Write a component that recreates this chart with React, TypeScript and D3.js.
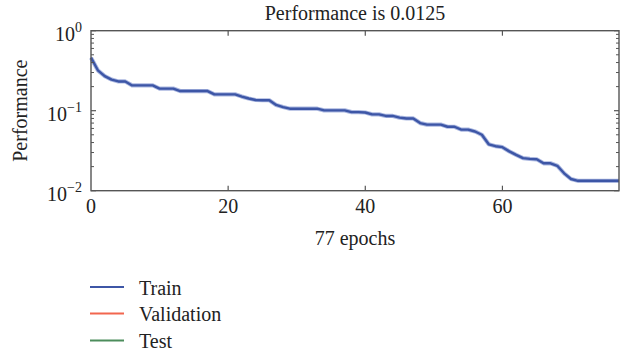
import React from "react";
import * as d3 from "d3";

const title = "Performance is 0.0125";
const xLabel = "77 epochs";
const yLabel = "Performance";
const xTicks = [0, 20, 40, 60];
const yDecades = [-2, -1, 0];
const legendNames = ["Train", "Validation", "Test"];
const legendColors = ["#3d56a6", "#f2664f", "#4d8d5c"];

// training performance per epoch (0..77)
const trainPerf = [
  0.46, 0.32, 0.27, 0.245, 0.232, 0.232, 0.207, 0.207, 0.207, 0.207,
  0.189, 0.189, 0.189, 0.176, 0.176, 0.176, 0.176, 0.176, 0.16, 0.16,
  0.16, 0.16, 0.15, 0.142, 0.136, 0.135, 0.135, 0.118, 0.111, 0.106,
  0.106, 0.106, 0.106, 0.106, 0.101, 0.101, 0.101, 0.101, 0.096, 0.096,
  0.095, 0.09, 0.09, 0.086, 0.086, 0.082, 0.08, 0.08, 0.07, 0.067,
  0.067, 0.067, 0.063, 0.063, 0.058, 0.058, 0.055, 0.05, 0.038, 0.036,
  0.035, 0.031, 0.028, 0.0255, 0.025, 0.0247, 0.022, 0.022, 0.0205, 0.0165,
  0.014, 0.0133, 0.0133, 0.0133, 0.0133, 0.0133, 0.0133, 0.0133,
];

const FONT = "Liberation Serif, DejaVu Serif, serif";
const ts: React.CSSProperties = { fontFamily: FONT };

export default function App() {
  const L = 91, R = 619, T = 30.7, B = 190.7;
  const x = d3.scaleLinear().domain([0, 77]).range([L, R]);
  const y = d3.scaleLog().domain([0.01, 1]).range([B, T]);
  const line = d3
    .line<number>()
    .x((_, i) => x(i))
    .y((d) => y(d));
  const path = line(trainPerf) || "";
  const axisColor = "#555";
  const minor: number[] = [];
  [-2, -1].forEach((e) => {
    for (let k = 2; k <= 9; k++) minor.push(k * Math.pow(10, e));
  });
  const textColor = "#222";
  return (
    <svg
      width={630}
      height={355}
      style={{ position: "absolute", left: 0, top: 0, background: "#fff" }}
    >
      <rect x={0} y={0} width={630} height={355} fill="#fff" />
      <text x={(L + R) / 2} y={20} textAnchor="middle" fontSize={20} fill={textColor} style={ts}>
        {title}
      </text>
      {/* data line */}
      <path d={path} fill="none" stroke="#aab7e0" strokeWidth={4.2} strokeLinejoin="round" />
      <path d={path} fill="none" stroke={legendColors[0]} strokeWidth={2.4} strokeLinejoin="round" />
      {/* ticks */}
      {xTicks.slice(1).map((t) => (
        <g key={"xt" + t}>
          <line x1={x(t)} x2={x(t)} y1={B} y2={B - 5} stroke={axisColor} strokeWidth={1.2} />
          <line x1={x(t)} x2={x(t)} y1={T} y2={T + 5} stroke={axisColor} strokeWidth={1.2} />
        </g>
      ))}
      {yDecades.map((e) => (
        <g key={"yt" + e}>
          <line x1={L} x2={L + 5} y1={y(Math.pow(10, e))} y2={y(Math.pow(10, e))} stroke={axisColor} strokeWidth={1.2} />
          <line x1={R} x2={R - 5} y1={y(Math.pow(10, e))} y2={y(Math.pow(10, e))} stroke={axisColor} strokeWidth={1.2} />
        </g>
      ))}
      {minor.map((v) => (
        <g key={"m" + v}>
          <line x1={L} x2={L + 3} y1={y(v)} y2={y(v)} stroke={axisColor} strokeWidth={1} />
          <line x1={R} x2={R - 3} y1={y(v)} y2={y(v)} stroke={axisColor} strokeWidth={1} />
        </g>
      ))}
      {/* frame */}
      <rect x={L} y={T} width={R - L} height={B - T} fill="none" stroke={axisColor} strokeWidth={1.4} />
      {/* x tick labels */}
      {xTicks.map((t) => (
        <text key={"xl" + t} x={x(t)} y={B + 22} textAnchor="middle" fontSize={20} fill={textColor} style={ts}>
          {t}
        </text>
      ))}
      {/* y tick labels */}
      {yDecades.map((e) => (
        <text key={"yl" + e} x={82} y={y(Math.pow(10, e)) + 10} textAnchor="end" fontSize={20} fill={textColor} style={ts}>
          10
          <tspan fontSize={14} dy={-9}>
            {e === 0 ? "0" : "\u2212" + Math.abs(e)}
          </tspan>
        </text>
      ))}
      <text
        transform={`translate(27,${(T + B) / 2}) rotate(-90)`}
        textAnchor="middle"
        fontSize={20}
        fill={textColor}
        style={ts}
      >
        {yLabel}
      </text>
      <text x={(L + R) / 2} y={245} textAnchor="middle" fontSize={20} fill={textColor} style={ts}>
        {xLabel}
      </text>
      {/* legend */}
      {legendNames.map((n, i) => {
        const ly = [287, 313.5, 340.5][i];
        return (
          <g key={n}>
            <line x1={90} x2={124} y1={ly} y2={ly} stroke={legendColors[i]} strokeWidth={2} />
            <text x={139} y={ly + 7.5} fontSize={20} fill={textColor} style={ts}>
              {n}
            </text>
          </g>
        );
      })}
    </svg>
  );
}
